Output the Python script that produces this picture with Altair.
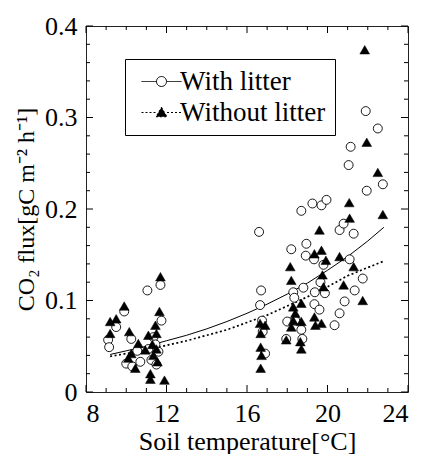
import altair as alt
import pandas as pd

# ---- data ----
series = ["With litter", "Without litter"]

with_x = [9.1, 9.15, 9.5, 9.9, 10.0, 10.25, 10.3, 10.7, 11.05, 11.1, 11.25, 11.35, 11.45, 11.6, 11.7, 11.75, 10.55, 11.5,
          16.6, 16.7, 16.65, 16.75, 16.78, 16.9,
          17.95, 18.0, 18.2, 18.3, 18.35, 18.4,
          18.7, 18.8, 18.7, 18.75, 18.95, 18.92,
          19.25, 19.33, 19.37, 19.35, 19.6, 19.7,
          19.95, 19.8, 19.87, 19.65,
          20.35, 20.6, 20.6, 20.8, 20.85,
          21.05, 21.15, 21.1, 21.3, 21.35,
          21.75, 21.9, 21.95, 22.5, 22.75]
with_y = [0.057, 0.049, 0.071, 0.088, 0.031, 0.058, 0.028, 0.033, 0.111, 0.047, 0.035, 0.060, 0.052, 0.044, 0.117, 0.078, 0.045, 0.030,
          0.175, 0.111, 0.095, 0.078, 0.066, 0.042,
          0.058, 0.077, 0.156, 0.109, 0.103, 0.078,
          0.198, 0.114, 0.068, 0.058, 0.162, 0.149,
          0.206, 0.145, 0.109, 0.096, 0.090, 0.204,
          0.210, 0.139, 0.108, 0.120,
          0.073, 0.086, 0.177, 0.184, 0.099,
          0.248, 0.268, 0.145, 0.173, 0.111,
          0.124, 0.307, 0.220, 0.288, 0.227]

without_x = [9.2, 9.2, 9.5, 9.9, 10.15, 10.1, 10.25, 10.45, 10.6, 10.95, 11.1, 11.2, 11.2, 11.35, 11.45, 11.5, 11.55, 11.65, 11.7, 11.9, 11.5, 11.3,
             16.65, 16.68, 16.68, 16.72, 16.68, 16.9,
             17.95, 18.15, 18.2, 18.3, 18.3, 18.4, 18.2,
             18.65, 18.7, 18.7, 18.7, 19.35, 19.35, 19.4,
             19.6, 19.7, 19.75, 19.8, 19.7, 19.92,
             20.6, 20.8, 21.08, 21.1, 21.3, 21.75,
             21.85, 21.95, 22.5, 22.75]
without_y = [0.077, 0.064, 0.080, 0.094, 0.066, 0.037, 0.042, 0.026, 0.053, 0.046, 0.062, 0.020, 0.014, 0.040, 0.073, 0.047, 0.033, 0.088, 0.126, 0.013, 0.064, 0.052,
             0.075, 0.064, 0.049, 0.040, 0.026, 0.073,
             0.057, 0.137, 0.122, 0.093, 0.078, 0.086, 0.071,
             0.055, 0.097, 0.077, 0.047, 0.151, 0.082, 0.073,
             0.177, 0.155, 0.128, 0.115, 0.075, 0.144,
             0.148, 0.117, 0.207, 0.190, 0.137, 0.100,
             0.374, 0.273, 0.240, 0.194]

fit_x = [9.2, 10, 11, 12, 13, 14, 15, 16, 17, 18, 19, 20, 21, 22, 22.8]
fit_with = [0.041, 0.045, 0.050, 0.056, 0.062, 0.069, 0.077, 0.086, 0.096, 0.107, 0.119, 0.133, 0.148, 0.165, 0.180]
fit_without = [0.039, 0.042, 0.046, 0.051, 0.056, 0.062, 0.068, 0.076, 0.084, 0.094, 0.104, 0.115, 0.127, 0.136, 0.143]

x_major = [8, 12, 16, 20, 24]
x_minor = [9, 10, 11, 13, 14, 15, 17, 18, 19, 21, 22, 23]
y_major = [0, 0.1, 0.2, 0.3, 0.4]
y_minor = [0.02, 0.04, 0.06, 0.08, 0.12, 0.14, 0.16, 0.18, 0.22, 0.24, 0.26, 0.28, 0.32, 0.34, 0.36, 0.38]

# ---- tables ----
pts = pd.DataFrame({
    "x": with_x + without_x,
    "y": with_y + without_y,
    "series": [series[0]] * len(with_x) + [series[1]] * len(without_x),
})
fit = pd.DataFrame({
    "x": fit_x + fit_x,
    "y": fit_with + fit_without,
    "series": [series[0]] * len(fit_x) + [series[1]] * len(fit_x),
})
xmaj = pd.DataFrame({"x": x_major})
xmin = pd.DataFrame({"x": x_minor})
ymaj = pd.DataFrame({"y": y_major})
ymin = pd.DataFrame({"y": y_minor})

FONT = "Liberation Serif"
W, H = 322, 366

xs = alt.Scale(domain=[8, 24], nice=False, zero=False)
ys = alt.Scale(domain=[0, 0.4], nice=False)

x_axis = alt.Axis(values=x_major, ticks=False, tickSize=0, domain=False, grid=False,
                  labelFont=FONT, labelFontSize=26, labelColor="black", labelPadding=8,
                  titleFont=FONT, titleFontSize=26, titleFontWeight="normal", titleColor="black",
                  titlePadding=2)
y_axis = alt.Axis(values=y_major, format="~g", ticks=False, tickSize=0, domain=False, grid=False,
                  labelFont=FONT, labelFontSize=26, labelColor="black", labelPadding=9,
                  titleFont=FONT, titleFontSize=24, titleFontWeight="normal", titleColor="black",
                  titleX=-53, titleY=183, titleAlign="center", titleBaseline="alphabetic")

X = alt.X("x:Q", scale=xs, axis=x_axis, title="Soil temperature[°C]")
Y = alt.Y("y:Q", scale=ys, axis=y_axis, title="CO₂ flux[gC m⁻² h⁻¹]")

def xticks(df, length):
    bottom = alt.Chart(df).mark_rule(color="black", strokeWidth=1).encode(
        x=X, y=alt.value(H), y2=alt.value(H - length))
    top = alt.Chart(df).mark_rule(color="black", strokeWidth=1).encode(
        x=X, y=alt.value(0), y2=alt.value(length))
    return [bottom, top]

def yticks(df, length):
    left = alt.Chart(df).mark_rule(color="black", strokeWidth=1).encode(
        y=Y, x=alt.value(0), x2=alt.value(length))
    right = alt.Chart(df).mark_rule(color="black", strokeWidth=1).encode(
        y=Y, x=alt.value(W), x2=alt.value(W - length))
    return [left, right]

tick_layers = xticks(xmaj, 7) + xticks(xmin, 4) + yticks(ymaj, 7) + yticks(ymin, 4)

line_with = alt.Chart(fit).transform_filter(alt.datum.series == series[0]).mark_line(
    color="black", strokeWidth=1).encode(x=X, y=Y)
line_without = alt.Chart(fit).transform_filter(alt.datum.series == series[1]).mark_line(
    color="black", strokeWidth=1.7, strokeDash=[2, 2.5]).encode(x=X, y=Y)

circles = alt.Chart(pts).transform_filter(alt.datum.series == series[0]).mark_point(
    shape="circle", size=80, filled=True, fill="white", stroke="black", strokeWidth=0.9, opacity=1
).encode(x=X, y=Y)
triangles = alt.Chart(pts).transform_filter(alt.datum.series == series[1]).mark_point(
    shape="triangle-up", size=95, filled=True, fill="black", stroke="black", strokeWidth=0.5, opacity=1
).encode(x=X, y=Y)

path_with = "M-4,0L-1,0M1,0L4,0M1,0A1,1,0,1,1,-1,0A1,1,0,1,1,1,0Z"
path_without = "M-4,0L-1.1,0M1.1,0L4,0M0,-1.05L1.1,0.85L-1.1,0.85Z"

leg = alt.Legend(orient="none", legendX=39, legendY=33, title=None,
                 labelFont=FONT, labelFontSize=27, labelColor="black", labelLimit=400,
                 symbolSize=100, symbolOffset=14, labelOffset=5, padding=9, rowPadding=3,
                 strokeColor="black", fillColor="white", symbolStrokeColor="black",
                 symbolStrokeWidth=1, symbolOpacity=1)

legend_layer = alt.Chart(pts).mark_point(opacity=0, size=100, color="black").encode(
    x=X, y=Y,
    shape=alt.Shape("series:N", scale=alt.Scale(domain=series, range=[path_with, path_without]), legend=leg),
    fill=alt.Fill("series:N", scale=alt.Scale(domain=series, range=["white", "black"]), legend=leg),
    stroke=alt.Stroke("series:N", scale=alt.Scale(domain=series, range=["black", "black"]), legend=leg),
    strokeDash=alt.StrokeDash("series:N", scale=alt.Scale(domain=series, range=[[1, 0], [2, 2]]), legend=leg),
)

chart = alt.layer(*tick_layers, line_with, line_without, circles, triangles, legend_layer).properties(
    width=W, height=H,
    padding={"left": 78, "top": 18, "right": 7, "bottom": 70},
    autosize=alt.AutoSizeParams(type="none"),
).configure(font=FONT, background="white").configure_view(stroke="#222", strokeWidth=1)

chart.save("out.html", embed_options={"renderer": "svg", "actions": False})
